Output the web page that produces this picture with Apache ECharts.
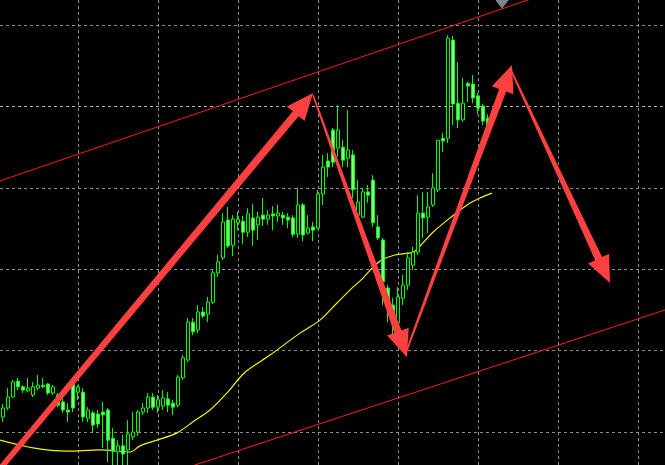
<!DOCTYPE html>
<html>
<head>
<meta charset="utf-8">
<script src="https://cdn.jsdelivr.net/npm/echarts@6/dist/echarts.min.js"></script>
<style>
  html, body { margin: 0; padding: 0; background: #000; }
  #chart { width: 665px; height: 465px; }
</style>
</head>
<body>
<div id="chart"></div>
<script>
// ---- Candles (index = bar number) ----
const opens = [103.7,105.9,108.6,112.5,111.1,110.1,109.1,110.8,111.5,111.8,
  109.6,109.1,107.4,105.4,112.3,109.8,109.8,103.4,104.7,104.4,
  104.9,105.4,98.5,95.1,96.6,95.6,98.8,100.0,104.9,105.9,
  108.6,106.1,106.4,108.1,107.1,106.6,113.3,117.7,127.0,125.1,
  129.5,129.0,131.9,139.1,142.8,152.1,145.9,151.4,151.8,149.1,
  152.6,150.9,153.3,152.3,153.6,153.1,153.3,152.8,152.6,148.6,
  155.8,148.9,150.4,150.1,158.5,166.6,174.2,169.8,170.0,167.3,
  168.1,153.3,152.8,159.0,161.9,150.4,147.2,135.4,131.2,126.8,
  132.9,136.1,141.0,144.2,153.8,152.8,155.8,159.5,172.2,172.2,
  196.3,180.8,176.7,185.7,185.5,182.6,180.1,177.1];
const closes = [105.9,108.6,112.3,111.1,110.3,110.8,111.1,111.5,111.1,109.6,
  111.1,106.6,105.4,104.9,105.9,111.1,103.7,105.4,101.7,102.0,
  104.2,98.0,95.3,96.6,94.6,99.5,100.0,104.9,105.9,108.6,
  106.1,107.9,108.4,106.6,106.1,113.5,118.2,127.0,124.6,129.5,
  128.5,131.9,139.1,141.8,151.6,145.7,152.3,152.3,149.1,153.6,
  149.6,152.8,152.3,153.3,153.1,153.8,152.6,152.1,148.6,155.8,
  148.4,150.1,149.6,158.5,165.1,165.1,166.3,174.2,166.8,169.3,
  159.5,156.5,159.0,158.2,151.4,147.7,136.9,131.2,127.0,133.2,
  136.1,142.8,144.2,153.8,152.6,155.3,160.0,171.7,171.5,196.8,
  180.6,176.7,180.8,185.0,182.1,179.6,176.4,175.2];
const lows = [102.5,105.4,108.4,110.3,109.6,109.8,108.6,110.3,110.8,109.1,
  109.1,106.1,104.7,102.5,104.9,107.9,102.5,102.5,100.0,101.0,
  96.1,92.6,91.0,91.5,91.5,91.5,98.0,99.0,104.2,104.7,
  105.4,104.7,105.4,104.9,104.2,106.1,112.8,117.2,123.8,124.3,
  128.0,127.0,131.4,138.1,142.3,145.2,143.2,149.6,146.2,147.9,
  145.7,147.2,150.6,150.9,149.6,151.6,150.9,150.1,147.9,147.7,
  146.9,148.6,146.9,149.9,155.8,162.7,165.1,167.6,165.1,165.1,
  157.5,151.6,152.6,156.3,150.4,147.2,131.2,127.0,122.6,124.6,
  131.2,134.9,139.8,143.5,147.7,148.9,155.3,159.0,168.8,171.0,
  175.4,174.7,176.2,181.1,180.8,178.1,175.4,173.7];
const highs = [106.9,110.8,112.8,113.3,111.5,113.3,112.3,114.0,113.3,112.0,
  111.5,109.6,108.4,107.1,113.3,111.5,110.8,106.1,105.2,105.4,
  107.4,105.9,101.0,98.0,99.3,102.9,104.9,105.4,107.1,109.6,
  109.6,109.1,110.3,109.8,107.9,114.0,118.9,128.0,128.0,131.2,
  130.7,133.2,139.8,143.5,153.8,155.3,153.3,154.1,153.1,155.0,
  156.0,154.1,157.5,154.5,155.5,155.8,154.1,153.8,153.3,160.0,
  156.3,153.3,151.6,159.5,168.1,168.5,174.7,180.3,171.7,179.1,
  169.3,161.9,160.0,160.7,163.1,153.3,147.7,136.1,132.9,135.6,
  138.6,144.2,145.5,158.2,159.0,159.0,163.6,171.7,173.5,197.5,
  197.3,190.9,187.0,186.0,187.7,183.3,180.6,178.1];

// ---- Moving average (read at points along the yellow curve) ----
const maBar = [-0.6,6,12.8,19.4,25.4,27.4,30.8,34.8,38,41.4,44.8,48.4,53.4,59.4,63.4,66.8,70,72,74,75.8,78.4,82,83.4,86,89.4,92.8,95.4,97.8];
const maValue = [98.0,96.1,95.3,95.6,95.1,96.6,98.0,99.8,102.5,105.4,109.6,114.7,118.9,124.3,127.5,131.7,135.6,137.8,140.5,142.3,143.5,144.2,145.7,149.1,152.6,155.8,157.5,158.7];

// ---- Channel lines (two anchor points each) ----
const upperChannelBar = [-0.6, 132.4];
const upperChannelValue = [161.7, 217.7];
const lowerChannelBar = [30, 132.4];
const lowerChannelValue = [88.5, 130.0];

// ---- Arrows ----
const arrowFromBar = [-2.6, 62, 80.4, 101.4];
const arrowFromValue = [88.0, 182.8, 118.9, 189.4];
const arrowToBar = [62, 80.8, 101.8, 121.4];
const arrowToValue = [183.3, 118.4, 190.2, 136.6];

// ---- Marker at top ----
const markerBar = [99.8];
const markerValue = [206.0];

// ---- Grid ----
const gridPrices = [100, 120, 140, 160, 180, 200];
const gridBars = [15, 31, 47, 63, 79, 95, 111, 127];

const candleData = opens.map((o, i) => [i, o, closes[i], lows[i], highs[i]]);
const maData = maBar.map((x, i) => [x, maValue[i]]);
const upperData = upperChannelBar.map((x, i) => [x, upperChannelValue[i]]);
const lowerData = lowerChannelBar.map((x, i) => [x, lowerChannelValue[i]]);
const arrowData = arrowFromBar.map((x, i) => [x, arrowFromValue[i], arrowToBar[i], arrowToValue[i]]);
const markerData = markerBar.map((x, i) => [x, markerValue[i]]);

const gridLineData = gridPrices.map(v => ({ yAxis: v, lineStyle: { color: v === 180 ? '#b4b4b4' : '#8c8c8c' } }))
  .concat(gridBars.map(v => ({ xAxis: v })));

function renderArrow(params, api) {
  const p0 = api.coord([api.value(0), api.value(1)]);
  const p1 = api.coord([api.value(2), api.value(3)]);
  const dx = p1[0] - p0[0], dy = p1[1] - p0[1];
  const len = Math.sqrt(dx * dx + dy * dy);
  const ux = dx / len, uy = dy / len;
  const nx = -uy, ny = ux;
  const headLen = 27, headHalf = 11.5, shaftHalf = 3.8;
  const tailHalf = params.dataIndex === 0 ? 2.8 : 0.8;
  const bx = p1[0] - ux * headLen, by = p1[1] - uy * headLen;
  const pts = [
    [p0[0] + nx * tailHalf, p0[1] + ny * tailHalf],
    [bx + nx * shaftHalf, by + ny * shaftHalf],
    [bx + nx * headHalf, by + ny * headHalf],
    [p1[0], p1[1]],
    [bx - nx * headHalf, by - ny * headHalf],
    [bx - nx * shaftHalf, by - ny * shaftHalf],
    [p0[0] - nx * tailHalf, p0[1] - ny * tailHalf]
  ];
  return { type: 'polygon', shape: { points: pts }, style: { fill: '#ff4040' } };
}

const chart = echarts.init(document.getElementById('chart'), null, { renderer: 'canvas' });
chart.setOption({
  backgroundColor: '#000000',
  animation: false,
  grid: { left: 0, right: 0, top: 0, bottom: 0 },
  xAxis: { type: 'value', min: -0.6, max: 132.4, show: false, splitLine: { show: false } },
  yAxis: { type: 'value', min: 91.9, max: 206.15, show: false, splitLine: { show: false } },
  series: [
    {
      type: 'line', data: lowerData, z: 2, silent: true, symbol: 'none',
      lineStyle: { color: '#ff1a1a', width: 1 },
      markLine: {
        z: 1, silent: true, symbol: 'none', animation: false,
        label: { show: false },
        lineStyle: { color: '#8c8c8c', width: 1, type: [3, 3] },
        emphasis: { disabled: true },
        data: gridLineData
      }
    },
    {
      type: 'line', data: upperData, z: 2, silent: true, symbol: 'none',
      lineStyle: { color: '#ff1a1a', width: 1 }
    },
    {
      type: 'line', data: maData, z: 3, silent: true, symbol: 'none', smooth: 0.3,
      lineStyle: { color: '#f4f400', width: 1.2 }
    },
    {
      type: 'candlestick', data: candleData, z: 4, silent: true,
      encode: { x: 0, y: [1, 2, 3, 4] },
      barWidth: 4,
      itemStyle: {
        color: '#000000', color0: '#7dff7d',
        borderColor: '#00ff00', borderColor0: '#00ff00', borderWidth: 1
      }
    },
    {
      type: 'scatter', data: markerData, z: 5, silent: true,
      symbol: 'diamond', symbolSize: [13, 16],
      itemStyle: { color: '#9aa8b8' }
    },
    {
      type: 'custom', data: arrowData, z: 6, silent: true,
      encode: { x: [0, 2], y: [1, 3] },
      renderItem: renderArrow
    }
  ]
});
</script>
</body>
</html>
